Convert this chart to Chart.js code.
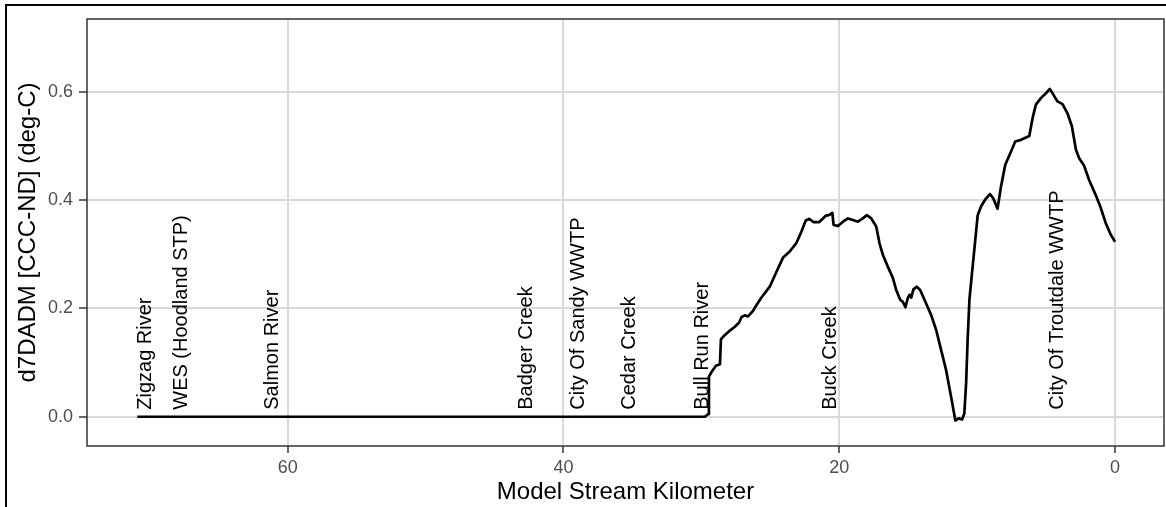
<!DOCTYPE html>
<html>
<head>
<meta charset="utf-8">
<script src="https://cdn.jsdelivr.net/npm/chart.js@4/dist/chart.umd.min.js"></script>
<style>
    body { margin: 0; background: #fff; }
    #wrap { position: relative; width: 1166px; height: 507px; overflow: hidden; }
    #frame { position: absolute; left: 5px; top: 4px; width: 1200px; height: 600px;
             border-left: 2px solid #000; border-top: 2px solid #000; pointer-events: none; }
</style>
</head>
<body>
<div id="wrap">
    <canvas id="profileChart" width="1166" height="507"></canvas>
    <div id="frame"></div>
</div>
<script>
// model stream km and d7DADM difference (deg-C)
const streamKm = [70.9, 29.74, 29.50, 29.45, 29.25, 28.94, 28.65, 28.58, 28.29, 27.93,
    27.57, 27.26, 27.08, 26.85, 26.61, 26.24, 26.00, 25.64, 25.04, 24.51,
    24.07, 23.59, 23.10, 22.74, 22.43, 22.19, 21.85, 21.47, 21.18, 20.98,
    20.75, 20.50, 20.41, 20.09, 19.73, 19.37, 19.01, 18.65, 18.29, 18.00,
    17.68, 17.32, 17.08, 16.84, 16.48, 16.11, 15.87, 15.58, 15.39, 15.20,
    15.03, 14.91, 14.78, 14.62, 14.38, 14.13, 13.70, 13.34, 12.97, 12.61,
    12.25, 11.89, 11.58, 11.34, 11.09, 10.93, 10.80, 10.69, 10.56, 9.96,
    9.72, 9.41, 9.07, 8.83, 8.52, 8.27, 7.96, 7.55, 7.24, 6.82,
    6.22, 5.98, 5.74, 5.38, 5.01, 4.73, 4.46, 4.18, 3.81, 3.45,
    3.13, 2.84, 2.60, 2.24, 1.88, 1.40, 1.03, 0.67, 0.31, 0.0];
const dTemp = [0, 0, 0.005, 0.074, 0.083, 0.094, 0.097, 0.143, 0.151, 0.159,
    0.166, 0.174, 0.184, 0.187, 0.185, 0.196, 0.206, 0.220, 0.240, 0.270,
    0.294, 0.305, 0.321, 0.342, 0.362, 0.365, 0.359, 0.359, 0.366, 0.371,
    0.372, 0.376, 0.354, 0.352, 0.360, 0.366, 0.363, 0.360, 0.366, 0.372,
    0.366, 0.351, 0.320, 0.299, 0.277, 0.256, 0.234, 0.216, 0.212, 0.202,
    0.219, 0.225, 0.220, 0.235, 0.240, 0.234, 0.209, 0.188, 0.160, 0.123,
    0.086, 0.037, -0.007, -0.003, -0.005, 0.006, 0.062, 0.142, 0.216, 0.372,
    0.388, 0.401, 0.411, 0.403, 0.384, 0.425, 0.465, 0.489, 0.508, 0.511,
    0.518, 0.551, 0.576, 0.588, 0.597, 0.605, 0.594, 0.582, 0.577, 0.560,
    0.536, 0.493, 0.477, 0.463, 0.437, 0.409, 0.385, 0.357, 0.336, 0.323];

// point sources / tributaries marked along the river
const siteNames = ['Zigzag River', 'WES (Hoodland STP)', 'Salmon River', 'Badger Creek',
    'City Of Sandy WWTP', 'Cedar Creek', 'Bull Run River', 'Buck Creek', 'City Of Troutdale WWTP'];
const siteKm = [70.3, 67.7, 61.1, 42.7, 38.9, 35.2, 29.9, 20.6, 4.2];

const xTicks = [0, 20, 40, 60];
const yTicks = [0, 0.2, 0.4, 0.6];

const FONT = "'Liberation Sans', Arial, sans-serif";

const siteLabels = {
    id: 'siteLabels',
    beforeDatasetsDraw(chart) {
        const { ctx, scales: { x, y } } = chart;
        ctx.save();
        ctx.font = `20px ${FONT}`;
        ctx.fillStyle = '#000';
        ctx.textAlign = 'left';
        ctx.textBaseline = 'middle';
        const y0 = y.getPixelForValue(0) - 7;
        siteNames.forEach((name, i) => {
            ctx.save();
            ctx.translate(x.getPixelForValue(siteKm[i]), y0);
            ctx.rotate(-Math.PI / 2);
            ctx.fillText(name, 0, 0);
            ctx.restore();
        });
        ctx.restore();
    }
};

const panelBorder = {
    id: 'panelBorder',
    afterDraw(chart) {
        const { ctx, chartArea: a } = chart;
        ctx.save();
        ctx.strokeStyle = '#333';
        ctx.lineWidth = 1.5;
        ctx.strokeRect(a.left, a.top, a.right - a.left, a.bottom - a.top);
        ctx.restore();
    }
};

document.addEventListener('DOMContentLoaded', () => {
    const ctx = document.getElementById('profileChart');

    new Chart(ctx, {
        type: 'line',
        data: {
            datasets: [{
                label: 'd7DADM',
                data: streamKm.map((k, i) => ({ x: k, y: dTemp[i] })),
                borderColor: '#000',
                borderWidth: 2.7,
                borderJoinStyle: 'round',
                pointRadius: 0,
                tension: 0,
                fill: false
            }]
        },
        options: {
            responsive: false,
            animation: false,
            layout: { padding: { left: 0, right: 2, top: 19, bottom: 0 } },
            plugins: {
                legend: { display: false },
                tooltip: { enabled: false }
            },
            scales: {
                x: {
                    type: 'linear',
                    reverse: true,
                    min: -3.55,
                    max: 74.55,
                    afterBuildTicks: s => { s.ticks = xTicks.map(v => ({ value: v })); },
                    afterFit: s => { s.height = 61; },
                    grid: { color: '#d9d9d9', lineWidth: 2, tickColor: '#333', tickWidth: 1.5, tickLength: 7 },
                    border: { display: false },
                    ticks: {
                        font: { family: FONT, size: 18 },
                        color: '#4d4d4d',
                        padding: 4,
                        maxRotation: 0,
                        autoSkip: false,
                        callback: v => String(v)
                    },
                    title: {
                        display: true,
                        text: 'Model Stream Kilometer',
                        font: { family: FONT, size: 24 },
                        color: '#000',
                        padding: { top: 0, bottom: 0 }
                    }
                },
                y: {
                    min: -0.054,
                    max: 0.734,
                    afterBuildTicks: s => { s.ticks = yTicks.map(v => ({ value: v })); },
                    afterFit: s => { s.width = 87; },
                    grid: { color: '#d9d9d9', lineWidth: 2, tickColor: '#333', tickWidth: 1.5, tickLength: 8 },
                    border: { display: false },
                    ticks: {
                        font: { family: FONT, size: 18 },
                        color: '#4d4d4d',
                        padding: 6,
                        callback: v => v.toFixed(1)
                    },
                    title: {
                        display: true,
                        text: 'd7DADM [CCC-ND] (deg-C)',
                        font: { family: FONT, size: 24 },
                        color: '#000',
                        padding: { top: 14, bottom: 0 }
                    }
                }
            }
        },
        plugins: [siteLabels, panelBorder]
    });
});
</script>
</body>
</html>
